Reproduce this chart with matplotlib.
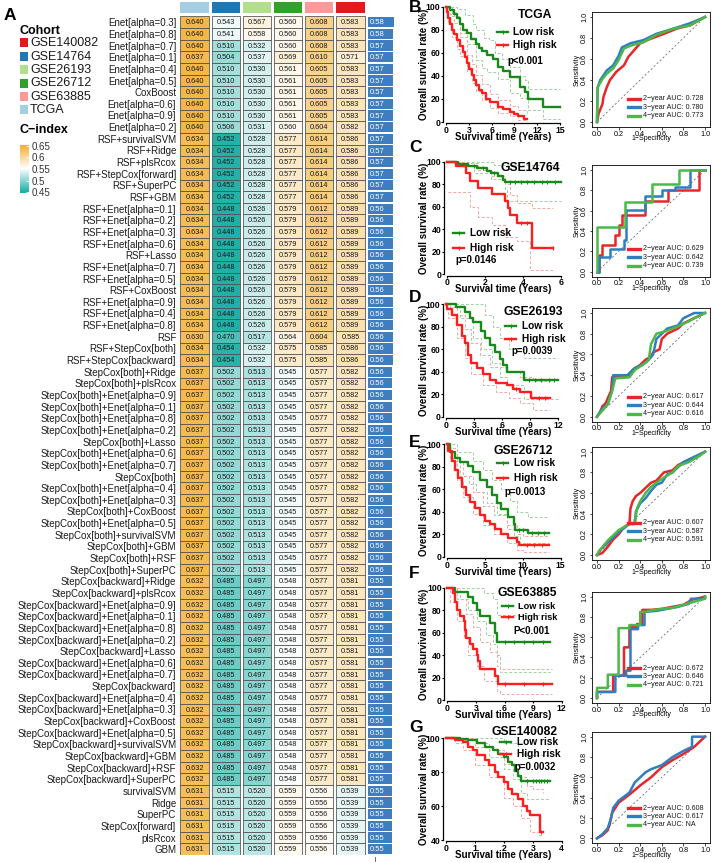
import numpy as np
import matplotlib
matplotlib.use('Agg')
import matplotlib.pyplot as plt
from matplotlib.colors import LinearSegmentedColormap, Normalize
from matplotlib.patches import Rectangle
from matplotlib.lines import Line2D

plt.rcParams['font.family'] = ['Liberation Sans', 'DejaVu Sans']

# ---------------- DATA: heatmap ----------------
models = [
    "Enet[alpha=0.3]", "Enet[alpha=0.8]", "Enet[alpha=0.7]", "Enet[alpha=0.1]", "Enet[alpha=0.4]",
    "Enet[alpha=0.5]", "CoxBoost", "Enet[alpha=0.6]", "Enet[alpha=0.9]", "Enet[alpha=0.2]",
    "RSF+survivalSVM", "RSF+Ridge", "RSF+plsRcox", "RSF+StepCox[forward]", "RSF+SuperPC", "RSF+GBM",
    "RSF+Enet[alpha=0.1]", "RSF+Enet[alpha=0.2]", "RSF+Enet[alpha=0.3]", "RSF+Enet[alpha=0.6]", "RSF+Lasso",
    "RSF+Enet[alpha=0.7]", "RSF+Enet[alpha=0.5]", "RSF+CoxBoost", "RSF+Enet[alpha=0.9]", "RSF+Enet[alpha=0.4]",
    "RSF+Enet[alpha=0.8]", "RSF", "RSF+StepCox[both]", "RSF+StepCox[backward]",
    "StepCox[both]+Ridge", "StepCox[both]+plsRcox", "StepCox[both]+Enet[alpha=0.9]", "StepCox[both]+Enet[alpha=0.1]",
    "StepCox[both]+Enet[alpha=0.8]", "StepCox[both]+Enet[alpha=0.2]", "StepCox[both]+Lasso", "StepCox[both]+Enet[alpha=0.6]",
    "StepCox[both]+Enet[alpha=0.7]", "StepCox[both]", "StepCox[both]+Enet[alpha=0.4]", "StepCox[both]+Enet[alpha=0.3]",
    "StepCox[both]+CoxBoost", "StepCox[both]+Enet[alpha=0.5]", "StepCox[both]+survivalSVM", "StepCox[both]+GBM",
    "StepCox[both]+RSF", "StepCox[both]+SuperPC",
    "StepCox[backward]+Ridge", "StepCox[backward]+plsRcox", "StepCox[backward]+Enet[alpha=0.9]", "StepCox[backward]+Enet[alpha=0.1]",
    "StepCox[backward]+Enet[alpha=0.8]", "StepCox[backward]+Enet[alpha=0.2]", "StepCox[backward]+Lasso", "StepCox[backward]+Enet[alpha=0.6]",
    "StepCox[backward]+Enet[alpha=0.7]", "StepCox[backward]", "StepCox[backward]+Enet[alpha=0.4]", "StepCox[backward]+Enet[alpha=0.3]",
    "StepCox[backward]+CoxBoost", "StepCox[backward]+Enet[alpha=0.5]", "StepCox[backward]+survivalSVM", "StepCox[backward]+GBM",
    "StepCox[backward]+RSF", "StepCox[backward]+SuperPC",
    "survivalSVM", "Ridge", "SuperPC", "StepCox[forward]", "plsRcox", "GBM",
]

cohorts = ["TCGA", "GSE14764", "GSE26193", "GSE26712", "GSE63885", "GSE140082"]
cohort_colors = ["#A6CEE3", "#1F78B4", "#B2DF8A", "#33A02C", "#FB9A99", "#E31A1C"]
legend_order = ["GSE140082", "GSE14764", "GSE26193", "GSE26712", "GSE63885", "TCGA"]

ci_tcga = [
    0.640, 0.640, 0.640, 0.637, 0.640, 0.640, 0.640, 0.640, 0.640, 0.640,
    0.634, 0.634, 0.634, 0.634, 0.634, 0.634,
    0.634, 0.634, 0.634, 0.634, 0.634, 0.634, 0.634, 0.634, 0.634, 0.634, 0.634,
    0.630, 0.634, 0.634,
    0.637, 0.637, 0.637, 0.637, 0.637, 0.637, 0.637, 0.637, 0.637,
    0.637, 0.637, 0.637, 0.637, 0.637, 0.637, 0.637, 0.637, 0.637,
    0.632, 0.632, 0.632, 0.632, 0.632, 0.632, 0.632, 0.632, 0.632,
    0.632, 0.632, 0.632, 0.632, 0.632, 0.632, 0.632, 0.632, 0.632,
    0.631, 0.631, 0.631, 0.631, 0.631, 0.631,
]
ci_gse14764 = [
    0.543, 0.541, 0.510, 0.504, 0.510, 0.510, 0.510, 0.510, 0.510, 0.506,
    0.452, 0.452, 0.452, 0.452, 0.452, 0.452,
    0.448, 0.448, 0.448, 0.448, 0.448, 0.448, 0.448, 0.448, 0.448, 0.448, 0.448,
    0.470, 0.454, 0.454,
    0.502, 0.502, 0.502, 0.502, 0.502, 0.502, 0.502, 0.502, 0.502,
    0.502, 0.502, 0.502, 0.502, 0.502, 0.502, 0.502, 0.502, 0.502,
    0.485, 0.485, 0.485, 0.485, 0.485, 0.485, 0.485, 0.485, 0.485,
    0.485, 0.485, 0.485, 0.485, 0.485, 0.485, 0.485, 0.485, 0.485,
    0.515, 0.515, 0.515, 0.515, 0.515, 0.515,
]
ci_gse26193 = [
    0.567, 0.558, 0.532, 0.537, 0.530, 0.530, 0.530, 0.530, 0.530, 0.531,
    0.528, 0.528, 0.528, 0.528, 0.528, 0.528,
    0.526, 0.526, 0.526, 0.526, 0.526, 0.526, 0.526, 0.526, 0.526, 0.526, 0.526,
    0.517, 0.532, 0.532,
    0.513, 0.513, 0.513, 0.513, 0.513, 0.513, 0.513, 0.513, 0.513,
    0.513, 0.513, 0.513, 0.513, 0.513, 0.513, 0.513, 0.513, 0.513,
    0.497, 0.497, 0.497, 0.497, 0.497, 0.497, 0.497, 0.497, 0.497,
    0.497, 0.497, 0.497, 0.497, 0.497, 0.497, 0.497, 0.497, 0.497,
    0.520, 0.520, 0.520, 0.520, 0.520, 0.520,
]
ci_gse26712 = [
    0.560, 0.560, 0.560, 0.569, 0.561, 0.561, 0.561, 0.561, 0.561, 0.560,
    0.577, 0.577, 0.577, 0.577, 0.577, 0.577,
    0.579, 0.579, 0.579, 0.579, 0.579, 0.579, 0.579, 0.579, 0.579, 0.579, 0.579,
    0.564, 0.575, 0.575,
    0.545, 0.545, 0.545, 0.545, 0.545, 0.545, 0.545, 0.545, 0.545,
    0.545, 0.545, 0.545, 0.545, 0.545, 0.545, 0.545, 0.545, 0.545,
    0.548, 0.548, 0.548, 0.548, 0.548, 0.548, 0.548, 0.548, 0.548,
    0.548, 0.548, 0.548, 0.548, 0.548, 0.548, 0.548, 0.548, 0.548,
    0.559, 0.559, 0.559, 0.559, 0.559, 0.559,
]
ci_gse63885 = [
    0.608, 0.608, 0.608, 0.610, 0.605, 0.605, 0.605, 0.605, 0.605, 0.604,
    0.614, 0.614, 0.614, 0.614, 0.614, 0.614,
    0.612, 0.612, 0.612, 0.612, 0.612, 0.612, 0.612, 0.612, 0.612, 0.612, 0.612,
    0.604, 0.585, 0.585,
    0.577, 0.577, 0.577, 0.577, 0.577, 0.577, 0.577, 0.577, 0.577,
    0.577, 0.577, 0.577, 0.577, 0.577, 0.577, 0.577, 0.577, 0.577,
    0.577, 0.577, 0.577, 0.577, 0.577, 0.577, 0.577, 0.577, 0.577,
    0.577, 0.577, 0.577, 0.577, 0.577, 0.577, 0.577, 0.577, 0.577,
    0.556, 0.556, 0.556, 0.556, 0.556, 0.556,
]
ci_gse140082 = [
    0.583, 0.583, 0.583, 0.571, 0.583, 0.583, 0.583, 0.583, 0.583, 0.582,
    0.586, 0.586, 0.586, 0.586, 0.586, 0.586,
    0.589, 0.589, 0.589, 0.589, 0.589, 0.589, 0.589, 0.589, 0.589, 0.589, 0.589,
    0.585, 0.586, 0.586,
    0.582, 0.582, 0.582, 0.582, 0.582, 0.582, 0.582, 0.582, 0.582,
    0.582, 0.582, 0.582, 0.582, 0.582, 0.582, 0.582, 0.582, 0.582,
    0.581, 0.581, 0.581, 0.581, 0.581, 0.581, 0.581, 0.581, 0.581,
    0.581, 0.581, 0.581, 0.581, 0.581, 0.581, 0.581, 0.581, 0.581,
    0.539, 0.539, 0.539, 0.539, 0.539, 0.539,
]

# ---------------- DATA: KM curves (time, survival %) ----------------
B_low = [(0,100),(0.5,97),(1.0,94),(1.5,90),(1.8,85),(2.3,80),(2.7,77),(3.3,72),(4.0,68),(4.4,64),(4.7,62),
         (5.35,58),(6.2,55),(6.9,48),(7.5,44),(8.4,39),(9.7,30),(10.4,26),(10.8,20),(12.8,13),(15.0,13)]
B_high = [(0,100),(0.15,95),(0.3,90),(0.5,85),(0.75,80),(1.0,76),(1.4,71),(1.8,66),(2.3,61),(2.5,56),(2.7,51),
          (3.0,46),(3.4,41),(3.7,36),(4.0,32),(4.4,28),(4.7,25),(5.2,20),(5.8,17),(6.9,13),(7.5,11),(8.4,9),
          (9.0,7),(9.5,5),(10.2,3),(10.6,3)]
B_low_up = [(0,100),(1.5,98),(2.5,93),(3.5,85),(4.0,80),(5.0,73),(5.6,71),(6.5,60),(7.4,55),(8.4,48),(9.7,40),
            (10.4,36),(10.8,29),(15.0,29)]
B_low_dn = [(0,100),(0.8,92),(1.8,77),(2.7,68),(4.0,54),(4.7,47),(5.35,43),(6.9,37),(8.4,25),(9.7,21),(10.8,10),
            (12.8,3),(15.0,3)]
B_high_up = [(0,100),(0.5,94),(1.0,86),(1.8,74),(2.7,58),(3.4,50),(4.0,41),(4.7,33),(5.8,24),(6.9,19),(8.4,14),
             (9.5,10),(10.6,8)]
B_high_dn = [(0,100),(0.3,85),(0.75,74),(1.4,63),(1.8,57),(2.7,44),(3.4,34),(4.0,27),(4.7,19),(5.8,12),(6.9,8),
             (8.4,5),(9.5,2),(10.6,1)]
B_low_cens = []
B_high_cens = []

C_low = [(0,100),(0.6,98),(1.1,96),(1.6,94),(2.1,92),(2.3,90),(2.7,87),(2.95,84),(3.05,82),(6.0,82)]
C_high = [(0,100),(0.5,96),(1.02,90),(1.2,83),(1.64,77),(2.35,71),(3.05,65),(3.2,59),(3.3,53),(3.67,46),
          (4.46,23),(5.6,23)]
C_low_up = [(0,100),(2.3,100),(2.5,97),(6.0,97)]
C_low_dn = [(0,100),(0.9,97),(1.4,90),(2.3,85),(3.05,75),(3.15,65),(6.0,65)]
C_high_up = [(0,100),(1.02,99),(1.64,93),(2.35,87),(3.05,80),(3.3,70),(3.67,63),(4.46,59),(5.6,59)]
C_high_dn = [(0.05,73),(1.02,73),(1.2,60),(1.64,51),(2.35,44),(3.05,33),(3.67,30),(4.4,4),(5.6,2)]
C_low_cens = [1.4, 1.9, 2.5, 3.3, 3.6, 3.9, 4.2, 4.6, 5.0, 5.3, 5.7]
C_high_cens = [3.9, 4.2, 5.6]

D_low = [(0,100),(1.1,97),(2.0,93),(2.6,88),(2.9,84),(3.8,76),(4.2,70),(4.7,64),(5.2,57),(5.8,51),(6.1,46),
         (6.5,40),(8.4,33),(12.0,33)]
D_high = [(0,100),(0.15,96),(0.6,90),(1.15,81),(1.7,72),(2.0,65),(2.4,55),(2.7,48),(3.3,43),(4.0,38),(4.7,33),
          (5.4,30),(6.5,28),(7.2,25),(7.9,22),(9.1,17),(11.1,17)]
D_low_up = [(0,100),(3.8,100),(4.2,90),(5.0,80),(5.8,70),(6.8,60),(8.4,52),(12.0,52)]
D_low_dn = [(0,100),(1.5,88),(2.9,70),(3.8,60),(4.9,48),(5.8,35),(6.5,28),(8.4,16),(12.0,16)]
D_high_up = [(0,100),(0.4,97),(1.15,90),(2.0,78),(2.7,65),(3.6,55),(4.7,44),(6.5,40),(7.9,35),(9.3,32),(11.1,32)]
D_high_dn = [(0,100),(0.25,88),(1.15,70),(2.0,52),(2.7,38),(4.0,28),(5.4,22),(6.8,17),(7.9,12),(9.3,6),(11.1,6)]
D_low_cens = [8.9, 9.5, 10.2, 11.0, 11.6]
D_high_cens = [7.5, 10.0, 10.6]

E_low = [(0,100),(0.45,93),(1.1,88),(1.75,84),(2.85,81),(3.5,75),(4.4,68),(5.3,62),(5.9,55),(6.6,48),(7.2,42),
         (8.1,35),(8.8,29),(9.0,24),(10.7,21),(13.4,21)]
E_high = [(0,100),(0.2,94),(0.66,85),(1.1,77),(1.5,70),(2.0,62),(2.6,55),(3.1,49),(3.7,43),(4.4,37),(5.0,32),
          (5.7,29),(6.4,25),(7.2,20),(8.1,17),(9.2,13),(9.5,10),(13.4,10)]
E_low_up = [(0,100),(1.3,93),(3.5,85),(4.8,77),(5.9,68),(7.2,60),(8.3,50),(9.2,40),(10.7,35),(13.4,35)]
E_low_dn = [(0,100),(0.45,85),(1.75,72),(3.0,65),(3.9,58),(5.3,48),(6.6,38),(7.9,25),(8.8,18),(9.6,12),(13.4,12)]
E_high_up = [(0,100),(0.45,97),(1.3,85),(2.2,72),(3.5,58),(4.8,45),(6.2,37),(7.9,28),(9.2,20),(10.1,18),(13.4,18)]
E_high_dn = [(0,100),(0.45,88),(1.3,68),(2.2,53),(3.5,38),(4.8,28),(6.2,20),(7.9,12),(9.2,6),(10.1,4),(13.4,4)]
E_low_cens = [9.5, 10.0, 11.2, 12.0, 12.8]
E_high_cens = [10.5, 11.5, 12.5]

F_low = [(0,100),(0.8,96),(2.2,92),(2.7,86),(3.1,80),(3.4,75),(4.5,69),(5.0,60),(5.2,52),(10.8,52)]
F_high = [(0,100),(0.6,95),(0.8,87),(1.0,80),(1.3,75),(1.7,70),(1.85,62),(2.0,55),(2.4,50),(2.7,45),(3.1,40),
          (3.25,35),(3.4,28),(5.0,21),(5.35,14),(11.0,14)]
F_low_up = [(0,100),(3.1,100),(3.9,95),(4.8,90),(5.2,76),(10.8,76)]
F_low_dn = [(0,100),(1.0,90),(2.2,80),(3.1,70),(4.1,58),(4.8,50),(5.2,40),(5.5,25),(10.8,25)]
F_high_up = [(0,100),(0.5,100),(1.3,90),(2.0,77),(2.7,65),(3.4,52),(4.5,43),(5.2,30),(5.5,28),(11.0,28)]
F_high_dn = [(0,100),(0.3,87),(1.0,70),(1.7,55),(2.2,40),(3.1,30),(3.8,17),(5.2,8),(5.5,5),(11.0,5)]
F_low_cens = [6.0, 7.0, 8.0, 9.0, 10.0]
F_high_cens = [6.0, 8.0, 10.0]

G_low = [(0,100),(0.48,99.5),(0.77,99),(1.06,97),(1.35,95),(1.64,93),(1.8,91),(2.0,89),(2.15,86),(2.27,84),
         (2.39,81),(2.5,78),(2.6,75),(3.6,75)]
G_high = [(0,100),(0.3,99),(0.6,98),(0.77,95),(0.95,93),(1.06,90),(1.35,87),(1.5,84),(1.7,80),(1.8,77),(2.0,74),
          (2.15,70),(2.27,67),(2.5,64),(2.67,60),(2.8,57),(2.9,55),(3.25,45),(3.37,45)]
G_low_up = [(0,100),(1.5,100),(2.0,97),(2.5,92),(2.7,90),(3.6,90)]
G_low_dn = [(0,100),(0.5,99),(1.0,95),(1.5,89),(2.0,82),(2.3,76),(2.6,68),(2.8,64),(3.6,64)]
G_high_up = [(0,100),(1.0,97),(1.5,93),(2.0,85),(2.5,77),(2.8,72),(3.0,70),(3.37,68)]
G_high_dn = [(0,100),(0.3,97),(0.6,93),(1.0,84),(1.5,77),(2.0,65),(2.3,60),(2.6,53),(2.9,45),(3.2,43),(3.37,43)]
G_low_cens = [2.8, 3.0, 3.1, 3.2, 3.3, 3.4, 3.5]
G_high_cens = [3.3]

km_titles = ["TCGA", "GSE14764", "GSE26193", "GSE26712", "GSE63885", "GSE140082"]
km_pvals = ["p<0.001", "p=0.0146", "p=0.0039", "p=0.0013", "P<0.001", "p=0.0032"]
km_xticks = [[0,3,6,9,12,15], [0,2,4,6], [0,3,6,9,12], [0,5,10,15], [0,3,6,9,12], [0,1,2,3,4]]
km_yticks = [[0,20,40,60,80,100]]*5 + [[40,60,80,100]]

# ---------------- DATA: ROC curves (1-specificity, sensitivity) ----------------
B_roc2 = [(0,0),(0.015,0.08),(0.05,0.17),(0.06,0.24),(0.09,0.33),(0.12,0.40),(0.18,0.48),(0.25,0.54),(0.29,0.62),
          (0.34,0.68),(0.40,0.75),(0.49,0.79),(0.62,0.84),(0.74,0.89),(0.86,0.92),(1,1)]
B_roc3 = [(0,0),(0.006,0.33),(0.03,0.40),(0.09,0.49),(0.15,0.54),(0.20,0.63),(0.23,0.71),(0.31,0.75),(0.43,0.78),
          (0.55,0.84),(0.71,0.89),(0.86,0.94),(1,1)]
B_roc4 = [(0,0),(0.006,0.33),(0.05,0.41),(0.09,0.46),(0.15,0.51),(0.20,0.59),(0.25,0.70),(0.32,0.73),(0.43,0.76),
          (0.55,0.83),(0.71,0.89),(0.86,0.92),(1,1)]
C_roc2 = [(0,0),(0.015,0),(0.015,0.16),(0.05,0.16),(0.05,0.26),(0.17,0.26),(0.17,0.36),(0.20,0.36),(0.20,0.46),
          (0.23,0.46),(0.23,0.56),(0.44,0.56),(0.44,0.70),(0.66,0.70),(0.66,0.80),(0.94,0.80),(0.94,1),(1,1)]
C_roc3 = [(0,0),(0.015,0),(0.015,0.14),(0.12,0.14),(0.12,0.22),(0.25,0.22),(0.25,0.31),(0.27,0.31),(0.27,0.61),
          (0.44,0.61),(0.44,0.74),(0.60,0.74),(0.60,0.80),(0.72,0.80),(0.72,0.83),(0.86,0.83),(0.86,1.0),(1,1)]
C_roc4 = [(0,0),(0,0.44),(0.26,0.44),(0.26,0.69),(0.51,0.69),(0.51,0.86),(0.76,0.86),(0.76,1.0),(1,1)]
D_roc2 = [(0,0),(0.03,0.05),(0.05,0.10),(0.08,0.13),(0.13,0.25),(0.14,0.38),(0.30,0.40),(0.33,0.45),(0.40,0.50),
          (0.45,0.55),(0.50,0.58),(0.52,0.62),(0.58,0.65),(0.60,0.75),(0.65,0.80),(0.75,0.85),(0.80,0.90),
          (0.90,0.95),(1,1)]
D_roc3 = [(0,0),(0.05,0.08),(0.10,0.12),(0.14,0.25),(0.15,0.40),(0.28,0.40),(0.35,0.47),(0.42,0.50),(0.48,0.55),
          (0.52,0.60),(0.55,0.75),(0.60,0.80),(0.65,0.85),(0.75,0.88),(0.80,0.95),(0.90,1.0),(1,1)]
D_roc4 = [(0,0),(0.05,0.06),(0.10,0.12),(0.14,0.25),(0.17,0.37),(0.30,0.38),(0.35,0.45),(0.45,0.52),(0.48,0.55),
          (0.50,0.70),(0.55,0.80),(0.65,0.83),(0.75,0.87),(0.85,0.92),(0.90,0.95),(1,1)]
E_roc2 = [(0,0),(0.05,0.02),(0.10,0.08),(0.15,0.15),(0.20,0.20),(0.25,0.27),(0.30,0.30),(0.31,0.45),(0.33,0.52),
          (0.36,0.57),(0.40,0.60),(0.45,0.65),(0.50,0.70),(0.55,0.72),(0.62,0.80),(0.70,0.82),(0.75,0.87),
          (0.85,0.92),(0.95,0.97),(1,1)]
E_roc3 = [(0,0),(0.03,0.05),(0.10,0.12),(0.20,0.22),(0.30,0.30),(0.35,0.30),(0.36,0.42),(0.40,0.50),(0.45,0.55),
          (0.50,0.62),(0.55,0.68),(0.60,0.70),(0.65,0.78),(0.70,0.80),(0.75,0.85),(0.80,0.90),(0.90,0.95),(1,1)]
E_roc4 = [(0,0),(0.02,0.04),(0.10,0.14),(0.20,0.24),(0.30,0.30),(0.35,0.31),(0.37,0.45),(0.40,0.52),(0.45,0.60),
          (0.50,0.66),(0.55,0.70),(0.62,0.75),(0.70,0.80),(0.75,0.86),(0.85,0.90),(0.95,0.96),(1,1)]
F_roc2 = [(0,0),(0,0.06),(0.15,0.06),(0.15,0.22),(0.25,0.22),(0.25,0.50),(0.30,0.50),(0.30,0.70),(0.37,0.70),
          (0.37,0.73),(0.42,0.73),(0.42,0.87),(0.50,0.87),(0.60,0.88),(0.70,0.90),(0.80,0.92),(0.88,0.97),(1,1)]
F_roc3 = [(0,0),(0,0.06),(0.17,0.06),(0.17,0.22),(0.27,0.22),(0.27,0.27),(0.31,0.27),(0.31,0.68),(0.38,0.68),
          (0.38,0.72),(0.44,0.72),(0.44,0.85),(0.55,0.86),(0.65,0.88),(0.75,0.90),(0.85,0.93),(0.87,0.98),
          (1,0.98),(1,1)]
F_roc4 = [(0,0),(0,0.10),(0.10,0.10),(0.10,0.23),(0.20,0.23),(0.20,0.69),(0.30,0.69),(0.30,0.72),(0.40,0.72),
          (0.40,0.85),(0.45,0.85),(0.48,0.86),(0.60,0.88),(0.70,0.89),(0.80,0.92),(0.90,0.95),(1,0.98),(1,1)]
G_roc2 = [(0,0),(0.05,0.03),(0.10,0.08),(0.12,0.15),(0.14,0.25),(0.20,0.35),(0.30,0.43),(0.40,0.52),(0.50,0.60),
          (0.60,0.70),(0.70,0.77),(0.80,0.83),(0.90,0.90),(1,1)]
G_roc3 = [(0,0),(0.05,0.04),(0.10,0.10),(0.13,0.20),(0.15,0.30),(0.20,0.37),(0.30,0.45),(0.35,0.55),(0.40,0.60),
          (0.45,0.65),(0.50,0.68),(0.60,0.72),(0.70,0.80),(0.80,0.86),(0.88,0.90),(0.88,1.0),(1,1)]
G_roc4 = []

roc_auc = [["0.728", "0.780", "0.773"], ["0.629", "0.642", "0.739"], ["0.617", "0.644", "0.616"],
           ["0.607", "0.587", "0.591"], ["0.672", "0.646", "0.721"], ["0.608", "0.617", "NA"]]

# ---------------- LAYOUT ----------------
W, H = 714, 863
fig = plt.figure(figsize=(W / 100, H / 100), dpi=100)


def box(l, t, r, b):
    return [l / W, 1 - b / H, (r - l) / W, (b - t) / H]


def fx(x):
    return x / W


def fy(y):
    return 1 - y / H


# ---- heatmap ----
cmap = LinearSegmentedColormap.from_list("ci", [(0, "#1FB1A8"), (0.5, "#FFFFFF"), (1, "#F2B035")])
norm = Normalize(0.45, 0.65)
cols = [ci_tcga, ci_gse14764, ci_gse26193, ci_gse26712, ci_gse63885, ci_gse140082]
nrow = len(models)

ax = fig.add_axes(box(179, 16.5, 366, 855))
ax.set_xlim(0, 6)
ax.set_ylim(nrow, 0)
for j, col in enumerate(cols):
    for i, v in enumerate(col):
        ax.add_patch(Rectangle((j + 0.045, i), 0.91, 1, facecolor=cmap(norm(v)),
                               edgecolor="#4d4d4d", lw=0.55))
        ax.text(j + 0.5, i + 0.55, f"{v:.3f}", ha="center", va="center", fontsize=5.3, color="#1a1a1a")
ax.set_yticks(np.arange(nrow) + 0.5)
ax.set_yticklabels(models, fontsize=7, color="#1a1a1a")
ax.tick_params(axis="y", length=0, pad=2)
ax.set_xticks([])
for s in ax.spines.values():
    s.set_visible(False)

# header
axh = fig.add_axes(box(179, 2, 366, 13.5))
axh.set_xlim(0, 6)
axh.set_ylim(0, 1)
for j, c in enumerate(cohort_colors):
    axh.add_patch(Rectangle((j + 0.045, 0), 0.91, 1, facecolor=c, edgecolor="none"))
axh.axis("off")

# mean bars
means = np.mean(np.array(cols), axis=0)
axb = fig.add_axes(box(368, 16.5, 396, 855))
axb.barh(np.arange(nrow) + 0.5, means, height=0.88, color="#3E7EBF", edgecolor="none")
for i, m in enumerate(means):
    axb.text(0.03, i + 0.55, f"{m:.2f}", ha="left", va="center", fontsize=5.5, color="white")
axb.set_xlim(0, 0.64)
axb.set_ylim(nrow, 0)
axb.axis("off")
fig.add_artist(Line2D([fx(375), fx(375)], [fy(857), fy(861)], color="#555555", lw=0.6,
                      transform=fig.transFigure))

# left legends
fig.text(fx(4), fy(15), "A", fontsize=12.5, fontweight="bold", va="center", ha="left")
fig.text(fx(19), fy(31), "Cohort", fontsize=9, fontweight="bold", va="center", ha="left")
leg_y = [43, 56.5, 70, 83.3, 96.8, 110]
for name, yc in zip(legend_order, leg_y):
    c = cohort_colors[cohorts.index(name)]
    fig.add_artist(Rectangle((fx(20), fy(yc + 4.5)), 8.5 / W, 9 / H, transform=fig.transFigure,
                             facecolor=c, edgecolor="none"))
    fig.text(fx(30), fy(yc), name, fontsize=9, va="center", ha="left", color="#1a1a1a")
fig.text(fx(19), fy(130), "C\u2212index", fontsize=9, fontweight="bold", va="center", ha="left")
axc = fig.add_axes(box(20, 144.6, 29, 193.4))
grad = np.linspace(0.444, 0.656, 200).reshape(-1, 1)
axc.imshow(grad, extent=[0, 1, 0.444, 0.656], origin="lower", aspect="auto", cmap=cmap, norm=norm)
axc.set_xlim(0, 1)
axc.set_ylim(0.444, 0.656)
axc.set_xticks([])
axc.yaxis.tick_right()
axc.set_yticks([0.45, 0.5, 0.55, 0.6, 0.65])
axc.set_yticklabels(["0.45", "0.5", "0.55", "0.6", "0.65"], fontsize=7, color="#333333")
axc.tick_params(axis="y", length=2, width=0.6, color="white", direction="in", pad=2)
for s in axc.spines.values():
    s.set_visible(False)

# ---- KM + ROC panels ----
km_green = "#178A1A"
km_red = "#FF1E1E"
ci_green = "#9FD09F"
ci_red = "#F6A5A5"
roc_cols = ["#E8262A", "#2E7EC1", "#4CB848"]

panel_letters = ["B", "C", "D", "E", "F", "G"]
letter_y = [8, 147, 297, 442, 573, 727]
KM_x0 = [446, 447, 446, 446.7, 447.3, 446]
KM_x1 = [560, 560.7, 558, 560.7, 561.7, 561.7]
KM_top = [6.7, 161.7, 304, 444.3, 587.7, 738.3]
KM_bot = [122, 274.3, 416.7, 556.7, 700, 840]
ROC_top = [17, 170, 313, 451.7, 596.7, 736.7]
ROC_bot = [122, 271.7, 416.7, 555, 698, 838.3]
ROC_x0, ROC_x1 = 597, 705

km_sets = [
    (B_low, B_high, B_low_up, B_low_dn, B_high_up, B_high_dn, B_low_cens, B_high_cens),
    (C_low, C_high, C_low_up, C_low_dn, C_high_up, C_high_dn, C_low_cens, C_high_cens),
    (D_low, D_high, D_low_up, D_low_dn, D_high_up, D_high_dn, D_low_cens, D_high_cens),
    (E_low, E_high, E_low_up, E_low_dn, E_high_up, E_high_dn, E_low_cens, E_high_cens),
    (F_low, F_high, F_low_up, F_low_dn, F_high_up, F_high_dn, F_low_cens, F_high_cens),
    (G_low, G_high, G_low_up, G_low_dn, G_high_up, G_high_dn, G_low_cens, G_high_cens),
]
roc_sets = [(B_roc2, B_roc3, B_roc4), (C_roc2, C_roc3, C_roc4), (D_roc2, D_roc3, D_roc4),
            (E_roc2, E_roc3, E_roc4), (F_roc2, F_roc3, F_roc4), (G_roc2, G_roc3, G_roc4)]

title_pos = [(535, 15), (530, 168), (533, 312), (523, 451), (527, 593), (525, 732)]
leg_line_x = [497, 453, 505, 497, 502, 500]
leg_rows = [(32, 45), (233, 248), (326, 338.5), (463, 478), (606, 617), (742, 754)]
leg_text_x = [513, 470, 522, 514, 518, 517]
pval_pos = [(525, 61, "center"), (455, 260, "left"), (532, 351, "center"), (525, 492, "center"),
            (532, 631, "center"), (535, 767, "center")]
leg_fs = [7.3, 7.3, 7.3, 7.3, 6.6, 7.3]
roc_leg_y0 = [99, 249, 396.7, 523, 668, 808]


def step_val(pts, t):
    ts = np.array([p[0] for p in pts])
    ss = np.array([p[1] for p in pts])
    k = np.searchsorted(ts, t, side="right") - 1
    return ss[max(k, 0)]


for k in range(6):
    low, high, lup, ldn, hup, hdn, lc, hc = km_sets[k]
    xmax = km_xticks[k][-1]
    ymin = km_yticks[k][0]
    x0, x1 = KM_x0[k], KM_x1[k]
    wpx = x1 - x0
    hpx = KM_bot[k] - KM_top[k]
    axk = fig.add_axes(box(x0 - 0.025 * wpx, KM_top[k] - 0.03 * hpx, x1 + 0.02 * wpx, KM_bot[k] + 0.012 * hpx))
    axk.set_xlim(-0.025 * xmax, 1.02 * xmax)
    yr = 100 - ymin
    axk.set_ylim(ymin - 0.012 * yr, 100 + 0.03 * yr)
    for pts, c in [(lup, ci_green), (ldn, ci_green), (hup, ci_red), (hdn, ci_red)]:
        axk.plot([p[0] for p in pts], [p[1] for p in pts], drawstyle="steps-post", color=c,
                 lw=0.7, ls=(0, (3, 2)))
    for pts, c, cens in [(low, km_green, lc), (high, km_red, hc)]:
        axk.plot([p[0] for p in pts], [p[1] for p in pts], drawstyle="steps-post", color=c, lw=1.7)
        if cens:
            axk.plot(cens, [step_val(pts, t) for t in cens], ls="none", marker="|", ms=3.5,
                     mew=0.8, color=c)
    axk.spines["top"].set_visible(False)
    axk.spines["right"].set_visible(False)
    axk.spines["left"].set_bounds(ymin, 100)
    axk.spines["bottom"].set_bounds(0, xmax)
    for s in ("left", "bottom"):
        axk.spines[s].set_linewidth(0.9)
    axk.set_xticks(km_xticks[k])
    axk.set_yticks(km_yticks[k])
    axk.set_xticklabels([str(v) for v in km_xticks[k]], fontsize=6.2, fontweight="bold")
    axk.set_yticklabels([str(v) for v in km_yticks[k]], fontsize=6.2, fontweight="bold")
    axk.tick_params(length=1.5, width=0.8, pad=0.4)

    yc = (KM_top[k] + KM_bot[k]) / 2
    fig.text(fx(424), fy(yc), "Overall survival rate (%)", rotation=90, fontsize=7, fontweight="bold",
             ha="center", va="center")
    fig.text(fx(503), fy(KM_bot[k] + 15), "Survival time (Years)", fontsize=7, fontweight="bold",
             ha="center", va="center")
    fig.text(fx(409), fy(letter_y[k]), panel_letters[k], fontsize=12.5, fontweight="bold",
             ha="left", va="center")
    tx, ty = title_pos[k]
    fig.text(fx(tx), fy(ty), km_titles[k], fontsize=8.7, fontweight="bold", ha="center", va="center")
    for (yy, c, lab) in [(leg_rows[k][0], km_green, "Low risk"), (leg_rows[k][1], km_red, "High risk")]:
        lx = leg_line_x[k]
        fig.add_artist(Line2D([fx(lx), fx(lx + 11)], [fy(yy), fy(yy)], color=c, lw=1.7,
                              transform=fig.transFigure))
        fig.add_artist(Line2D([fx(lx + 5.5)], [fy(yy)], color=c, marker="|", ms=3, mew=0.8,
                              transform=fig.transFigure))
        fig.text(fx(leg_text_x[k]), fy(yy), lab, fontsize=leg_fs[k], fontweight="bold", ha="left",
                 va="center")
    px, py, pha = pval_pos[k]
    fig.text(fx(px), fy(py), km_pvals[k], fontsize=7, fontweight="bold", ha=pha, va="center")

    # ROC
    rt, rb = ROC_top[k], ROC_bot[k]
    rh = rb - rt
    rw = ROC_x1 - ROC_x0
    axr = fig.add_axes(box(ROC_x0 - 0.05 * rw, rt - 0.05 * rh, ROC_x1 + 0.05 * rw, rb + 0.05 * rh))
    axr.set_xlim(-0.05, 1.05)
    axr.set_ylim(-0.05, 1.05)
    axr.plot([0, 1], [0, 1], color="#555555", lw=0.5, ls=(0, (3, 3)))
    for pts, c in zip(roc_sets[k], roc_cols):
        if pts:
            axr.plot([p[0] for p in pts], [p[1] for p in pts], color=c, lw=1.8)
    ticks = [0, 0.2, 0.4, 0.6, 0.8, 1.0]
    tl = ["0.0", "0.2", "0.4", "0.6", "0.8", "1.0"]
    axr.set_xticks(ticks)
    axr.set_xticklabels(tl, fontsize=5.2)
    axr.set_yticks(ticks)
    axr.set_yticklabels(tl, fontsize=5.2, rotation=90, va="center")
    axr.tick_params(length=1.8, width=0.5, pad=0.8)
    for s in axr.spines.values():
        s.set_linewidth(0.6)
    fig.text(fx(577), fy((rt + rb) / 2), "Sensitivity", rotation=90, fontsize=5, ha="center", va="center")
    fig.text(fx(651), fy(rb + 17), "1\u2212Specificity", fontsize=5, ha="center", va="center")
    for r, (yr_, c) in enumerate(zip([0, 8.4, 16.8], roc_cols)):
        yy = roc_leg_y0[k] + yr_
        fig.add_artist(Line2D([fx(628), fx(640)], [fy(yy), fy(yy)], color=c, lw=2.4,
                              transform=fig.transFigure))
        fig.text(fx(643), fy(yy), f"{r + 2}\u2212year AUC: {roc_auc[k][r]}", fontsize=5.1,
                 ha="left", va="center", color="#1a1a1a")

fig.savefig("out.png", dpi=100)
